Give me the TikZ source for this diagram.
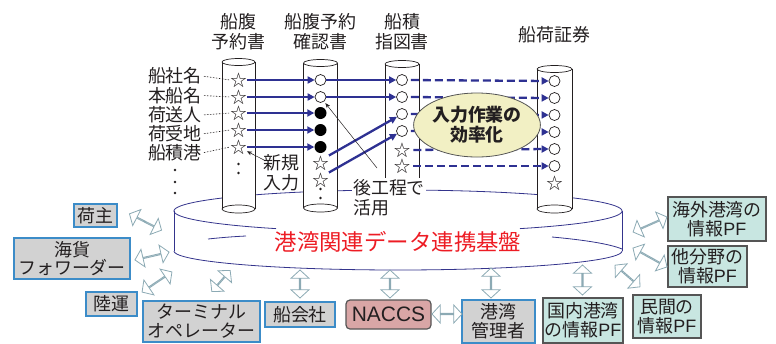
\documentclass[tikz,border=0pt]{standalone}
\usepackage{fontspec}
\setmainfont{Noto Sans CJK JP}
\newfontfamily\latf{Liberation Sans}
\usetikzlibrary{arrows.meta,shapes.geometric,shapes.arrows}
\definecolor{navyb}{RGB}{46,49,146}
\definecolor{discc}{RGB}{52,52,140}
\definecolor{redl}{RGB}{237,28,36}
\definecolor{txt}{RGB}{35,31,32}
\definecolor{grayf}{RGB}{210,210,210}
\definecolor{blueb}{RGB}{60,140,200}
\definecolor{tealf}{RGB}{200,230,225}
\definecolor{tealb}{RGB}{85,85,85}
\definecolor{naccsf}{RGB}{217,166,166}
\definecolor{ellf}{RGB}{242,240,196}
\definecolor{arrc}{RGB}{140,170,180}
\newcommand\mycyl[4]{%
  \fill[white] (#1-#2,#3) rectangle (#1+#2,#4);
  \draw[cylline] (#1-#2,#3) -- (#1-#2,#4) (#1+#2,#3) -- (#1+#2,#4);
  \draw[cylline,fill=white] (#1,#3) ellipse [x radius=#2, y radius=3.5];
  \draw[cylline,fill=white] (#1,#4) ellipse [x radius=#2, y radius=4];
}
\begin{document}
\begin{tikzpicture}[x=1bp,y=-1bp,
  lbl/.style={font=\fontsize{18}{20}\selectfont, text=txt, inner sep=0pt},
  st/.style={font=\fontsize{16.5}{16}\selectfont, text=txt, inner sep=0pt},
  oc/.style={circle, draw=txt, line width=0.7bp, fill=white, minimum size=11bp, inner sep=0pt},
  fc/.style={circle, fill=black, minimum size=12bp, inner sep=0pt},
  dotn/.style={circle, fill=txt, minimum size=2.6bp, inner sep=0pt},
  cylline/.style={draw=txt, line width=0.7bp},
  discl/.style={draw=discc, line width=0.8bp},
  barr/.style={draw=navyb, line width=2.3bp, -{Triangle[length=7bp,width=7bp]}},
  darr/.style={barr, dash pattern=on 8bp off 4bp, shorten <=3bp},
  dotl/.style={draw=txt, line width=0.6bp, dash pattern=on 1.5bp off 1.5bp, shorten <=2bp, shorten >=1bp},
  thinarr/.style={draw=txt, line width=0.5bp, -{Stealth[length=5bp,width=4bp]}},
  boxt/.style={font=\fontsize{18}{19}\selectfont, text=txt, align=center, inner sep=0pt, line width=1.2bp},
  graybox/.style={boxt, rectangle, fill=grayf, draw=blueb},
  tealbox/.style={boxt, rectangle, fill=tealf, draw=tealb},
  naccsbox/.style={boxt, rectangle, rounded corners=4bp, fill=naccsf, draw=tealb},
  dbl/.style={double arrow, draw=arrc, fill=white, line width=0.8bp, minimum width=18bp, inner sep=0pt, double arrow head extend=5.5bp, double arrow tip angle=95, anchor=center}
]
\useasboundingbox (0,0) rectangle (776,343);

% ---------- platform disc ----------
\draw[discl] plot[domain=180:360,samples=90] ({398+224*cos(\x)},{211+21*sin(\x)});
\draw[discl] plot[domain=123:180,samples=30] ({398+224*cos(\x)},{211+21*sin(\x)});
\draw[discl] plot[domain=0:57,samples=30] ({398+224*cos(\x)},{211+21*sin(\x)});
\draw[discl] (174,211) -- (174,251);
\draw[discl] (622,211) -- (622,251);
\draw[discl] plot[domain=0:180,samples=90] ({398+224*cos(\x)},{251+19*sin(\x)});
\draw[discl] (208,239) .. controls (222,237.5) and (235,236.5) .. (246,236);
\draw[discl] (552,237) .. controls (585,240) and (610,244) .. (622,249);
\node[font=\fontsize{22.5}{24}\selectfont, text=redl, inner sep=0pt] (plat) at (398,242) {港湾関連データ連携基盤};

% ---------- columns ----------
\mycyl{238.5}{16.5}{62}{209}
\mycyl{320.5}{17}{63}{208}
\mycyl{402}{17}{64}{208}
\mycyl{554.5}{17.5}{69}{209}

\node[lbl,align=center] (h1) at (238.5,32) {船腹\\予約書};
\node[lbl,align=center] (h2) at (320.5,32) {船腹予約\\確認書};
\node[lbl,align=center] (h3) at (402,32) {船積\\指図書};
\node[lbl] (h4) at (554.5,35) {船荷証券};

% row labels
\node[lbl,anchor=east] (r1) at (202,76) {船社名};
\node[lbl,anchor=east] (r2) at (202,95.5) {本船名};
\node[lbl,anchor=east] (r3) at (202,115) {荷送人};
\node[lbl,anchor=east] (r4) at (202,134) {荷受地};
\node[lbl,anchor=east] (r5) at (202,153) {船積港};
\node[dotn] (ld1) at (175,170) {};
\node[dotn] (ld2) at (175,182) {};
\node[dotn] (ld3) at (175,193) {};

% column 1
\node[st] (s11) at (238.5,80) {☆};
\node[st] (s12) at (238.5,97) {☆};
\node[st] (s13) at (238.5,113) {☆};
\node[st] (s14) at (238.5,130) {☆};
\node[st] (s15) at (238.5,147) {☆};
\node[dotn] (d11) at (238.5,164) {};
\node[dotn] (d12) at (238.5,173) {};

% column 2
\node[oc] (c21) at (320.5,80) {};
\node[oc] (c22) at (320.5,97) {};
\node[fc] (c23) at (320.5,113) {};
\node[fc] (c24) at (320.5,130) {};
\node[fc] (c25) at (320.5,147) {};
\node[st] (s21) at (320.5,163) {☆};
\node[st] (s22) at (320.5,180) {☆};
\node[dotn] (d21) at (320.5,189) {};
\node[dotn] (d22) at (320.5,198) {};

% column 3
\node[oc] (c31) at (402,80) {};
\node[oc] (c32) at (402,97) {};
\node[oc] (c33) at (402,114) {};
\node[oc] (c34) at (402,131) {};
\node[st] (s31) at (402,150) {☆};
\node[st] (s32) at (402,166) {☆};

% column 4
\node[oc] (c41) at (554.5,81) {};
\node[oc] (c42) at (554.5,98) {};
\node[oc] (c43) at (554.5,115) {};
\node[oc] (c44) at (554.5,132) {};
\node[oc] (c45) at (554.5,149) {};
\node[oc] (c46) at (554.5,166) {};
\node[st] (s41) at (554.5,183) {☆};

% dotted leaders
\draw[dotl] (r1.east) -- (s11.west);
\draw[dotl] (r2.east) -- (s12.west);
\draw[dotl] (r3.east) -- (s13.west);
\draw[dotl] (r4.east) -- (s14.west);
\draw[dotl] (r5.east) -- (s15.west);

% blue arrows col1 -> col2
\draw[barr] (s11.east) -- (c21.west);
\draw[barr] (s12.east) -- (c22.west);
\draw[barr] (s13.east) -- (c23.west);
\draw[barr] (s14.east) -- (c24.west);
\draw[barr] (s15.east) -- (c25.west);
% col2 -> col3
\draw[barr] (c21.east) -- (c31.west);
\draw[barr] (c22.east) -- (c32.west);
\draw[barr] (s21.north east) -- (c33);
\draw[barr] (s22.north east) -- (c34);
% dashed col3 -> col4
\draw[darr] (c31.east) -- (c41.west);
\draw[darr] (c32.east) -- (c42.west);
\draw[darr] (c33.east) -- (c43.west);
\draw[darr] (c34.east) -- (c44.west);
\draw[darr] (s31.east) -- (c45.west);
\draw[darr] (s32.east) -- (c46.west);

\node[ellipse, draw=tealb, line width=0.8bp, fill=ellf, minimum width=108bp, minimum height=64bp, inner sep=0pt, align=center, text=txt, font=\bfseries\fontsize{18}{20}\selectfont] (eff) at (477,125) {入力作業の\\効率化};

% annotations
\node[lbl,align=center] (shinki) at (281,173) {新規\\入力};
\coordinate (shA) at (264,160);
\draw[thinarr] (shA) -- (s15);
\node[lbl,align=left,fill=white,inner sep=1bp] (kou) at (389,197.5) {後工程で\\活用};
\coordinate (koA) at (377,168);
\draw[thinarr,shorten >=2bp] (koA) -- (c22);

% ---------- boxes ----------
\node[graybox, minimum width=43bp, minimum height=23bp] (ninushi) at (95.5,215.5) {荷主};
\node[graybox, minimum width=116bp, minimum height=41bp] (kaika) at (72,258.5) {海貨\\フォワーダー};
\node[graybox, minimum width=51bp, minimum height=24bp] (rikuun) at (111.5,304) {陸運};
\node[graybox, minimum width=117bp, minimum height=41bp] (term) at (201.5,321.5) {ターミナル\\オペレーター};
\node[graybox, minimum width=70bp, minimum height=25bp] (senkai) at (300,314.5) {船会社};
\node[naccsbox, minimum width=85bp, minimum height=29bp, font=\latf\fontsize{21}{22}\selectfont] (naccs) at (388.5,314.5) {NACCS};
\node[graybox, minimum width=73bp, minimum height=43bp] (kowan) at (498.5,321.5) {港湾\\管理者};
\node[tealbox, minimum width=80bp, minimum height=45bp] (kokunai) at (583,320.5) {国内港湾\\の情報{\latf PF}};
\node[tealbox, minimum width=68bp, minimum height=43bp] (minkan) at (667,316.5) {民間の\\情報{\latf PF}};
\node[tealbox, minimum width=79bp, minimum height=41bp] (tabun) at (707.5,266.5) {他分野の\\情報{\latf PF}};
\node[tealbox, minimum width=98bp, minimum height=44bp] (kaigai) at (717,219) {海外港湾の\\情報{\latf PF}};

% ---------- double arrows ----------
\node[dbl, minimum height=36bp, rotate=-27] (a1) at (145.5,222) {};
\node[dbl, minimum height=35bp, rotate=13] (a2) at (152,256) {};
\node[dbl, minimum height=36bp, rotate=34] (a3) at (157,282) {};
\node[dbl, minimum height=28bp, rotate=49] (a4) at (221,281) {};
\node[dbl, minimum height=28bp, rotate=90] (a5) at (300,284) {};
\node[dbl, minimum height=28bp, rotate=90] (a6) at (390,284) {};
\node[dbl, minimum height=30bp, rotate=90] (a7) at (491,283) {};
\node[dbl, minimum height=30bp] (a8) at (447,314) {};
\node[dbl, minimum height=30bp, rotate=90] (a9) at (582.5,280) {};
\node[dbl, minimum height=33bp, rotate=-41] (a10) at (627.5,276) {};
\node[dbl, minimum height=39bp, rotate=-29] (a11) at (650,257.5) {};
\node[dbl, minimum height=37bp, rotate=24] (a12) at (650,224.5) {};
\end{tikzpicture}
\end{document}
